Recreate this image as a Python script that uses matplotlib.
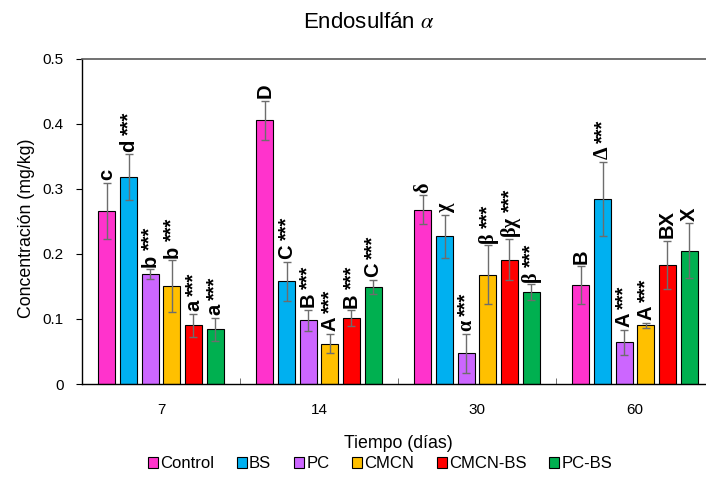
import numpy as np
import matplotlib
matplotlib.use('Agg')
import matplotlib.pyplot as plt

plt.rcParams['font.family'] = ['Liberation Sans', 'DejaVu Sans']
plt.rcParams['mathtext.fontset'] = 'stix'

dias = ['7', '14', '30', '60']
tratamientos = ['Control', 'BS', 'PC', 'CMCN', 'CMCN-BS', 'PC-BS']
colores = ['#FF33CC', '#00B0F0', '#CC66FF', '#FFC000', '#FF0000', '#00B050']

# concentracion media (mg/kg) por tratamiento, en el orden de dias
control = [0.266, 0.405, 0.268, 0.152]
bs = [0.318, 0.158, 0.227, 0.284]
pc = [0.169, 0.098, 0.047, 0.064]
cmcn = [0.150, 0.062, 0.168, 0.090]
cmcn_bs = [0.090, 0.101, 0.191, 0.183]
pc_bs = [0.084, 0.149, 0.141, 0.205]

# desviacion estandar
control_sd = [0.043, 0.030, 0.022, 0.029]
bs_sd = [0.035, 0.030, 0.033, 0.057]
pc_sd = [0.007, 0.016, 0.030, 0.019]
cmcn_sd = [0.040, 0.015, 0.045, 0.004]
cmcn_bs_sd = [0.018, 0.012, 0.032, 0.037]
pc_bs_sd = [0.018, 0.011, 0.012, 0.042]

# letras de significancia (letra, asteriscos)
control_let = [('c', ''), ('D', ''), ('δ', ''), ('B', '')]
bs_let = [('d', '***'), ('C', '***'), ('χ', ''), ('Δ', '***')]
pc_let = [('b', '***'), ('B', '***'), ('α', '***'), ('A', '***')]
cmcn_let = [('b', '***'), ('A', '***'), ('β', '***'), ('A', '***')]
cmcn_bs_let = [('a', '***'), ('B', '***'), ('βχ', '***'), ('BX', '')]
pc_bs_let = [('a', '***'), ('C', '***'), ('β', '***'), ('X', '')]

medias = [control, bs, pc, cmcn, cmcn_bs, pc_bs]
sds = [control_sd, bs_sd, pc_sd, cmcn_sd, cmcn_bs_sd, pc_bs_sd]
letras = [control_let, bs_let, pc_let, cmcn_let, cmcn_bs_let, pc_bs_let]

fig = plt.figure(figsize=(7.06, 4.83), dpi=100)
ax = fig.add_axes([82 / 706, 99 / 483, 632 / 706, 325.5 / 483])

x = np.arange(len(dias))
paso = 0.137
ancho = 0.108

for j, (nombre, color) in enumerate(zip(tratamientos, colores)):
    pos = x + (j - 2.5) * paso
    ax.bar(pos, medias[j], ancho, color=color, edgecolor='black', linewidth=0.8,
           label=nombre, zorder=2)
    ax.errorbar(pos, medias[j], yerr=sds[j], fmt='none', ecolor='#6d6d6d',
                elinewidth=1.0, capsize=2.6, capthick=1.0, zorder=3)
    for k in range(len(dias)):
        letra, ast = letras[j][k]
        # las letras griegas van en serif
        fam = 'Liberation Serif' if not letra.isascii() else 'Liberation Sans'
        t = ax.text(pos[k], medias[j][k] + sds[j][k] + 0.004, letra, rotation=90,
                    ha='center', va='bottom', fontsize=14.5, fontweight='bold',
                    family=fam, zorder=4)
        if ast:
            ax.annotate(ast, xy=(0.5, 1), xycoords=t, xytext=(0, 3),
                        textcoords='offset points', rotation=90, ha='center',
                        va='bottom', fontsize=14.5, fontweight='bold')

ax.set_xlim(-0.5, 3.5)
ax.set_ylim(0, 0.5)
ax.set_yticks([0, 0.1, 0.2, 0.3, 0.4, 0.5])
ax.set_yticklabels(['0', '0.1', '0.2', '0.3', '0.4', '0.5'])
ax.set_xticks(x)
ax.set_xticklabels(dias)
ax.set_xticks([0.5, 1.5, 2.5], minor=True)
ax.tick_params(axis='x', which='major', length=0, pad=14, labelsize=11)
ax.tick_params(axis='x', which='minor', direction='in', length=4, color='#595959')
ax.tick_params(axis='y', direction='out', length=4, pad=9, labelsize=11)

ax.spines['right'].set_visible(False)
ax.spines['top'].set_color('#595959')
ax.spines['top'].set_linewidth(1.2)
ax.spines['left'].set_linewidth(1.0)
ax.spines['bottom'].set_linewidth(1.0)

fig.text(369 / 706, 1 - 22 / 483, 'Endosulfán $\\alpha$', ha='center', va='center',
         fontsize=16)
fig.text(27 / 706, 1 - 228 / 483, 'Concentración (mg/kg)', rotation=90,
         ha='center', va='center', fontsize=12.8)
fig.text(398 / 706, 1 - 443 / 483, 'Tiempo (días)', ha='center', va='center',
         fontsize=12.8)

fig.legend(loc='center', bbox_to_anchor=(380 / 706, 1 - 464 / 483), ncol=6,
           frameon=False, fontsize=12, handlelength=0.6, handleheight=0.6,
           handletextpad=0.15, columnspacing=1.35)

fig.savefig('out.png', dpi=100)
